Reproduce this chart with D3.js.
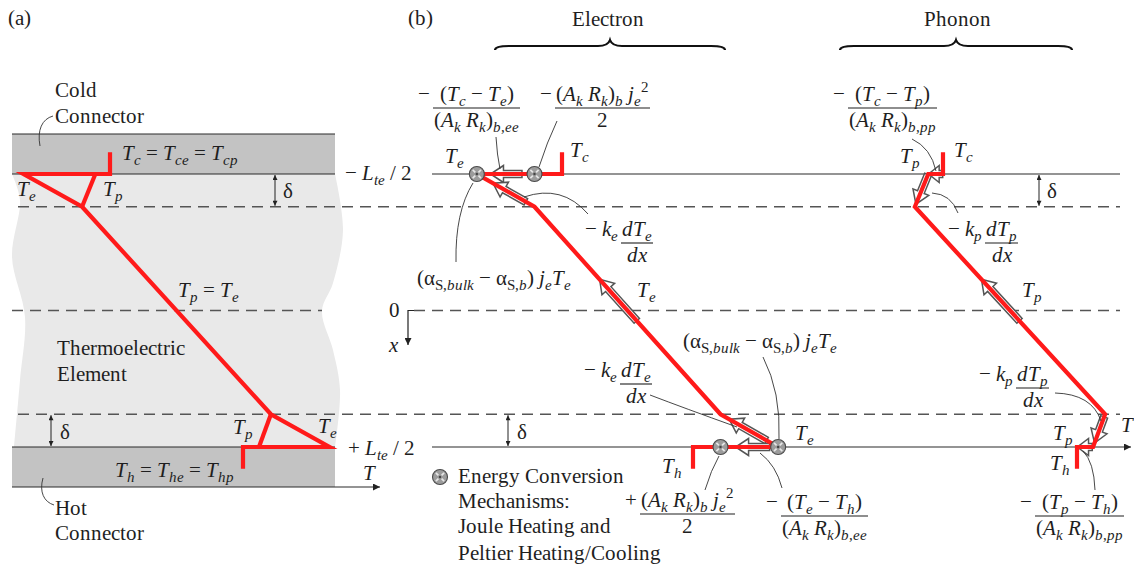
<!DOCTYPE html>
<html>
<head>
<meta charset="utf-8">
<script src="https://cdn.jsdelivr.net/npm/d3@7"></script>
<style>
  html, body { margin: 0; padding: 0; background: #fff; }
  @font-face { font-family: "FigSerif"; font-style: normal; font-weight: 400;
    src: local("Liberation Serif"), local("LiberationSerif"), local("LiberationSerif-Regular"),
         local("Times New Roman"), local("DejaVu Serif"), local("DejaVuSerif"), local("Noto Serif"), local("FreeSerif"); }
  @font-face { font-family: "FigSerif"; font-style: italic; font-weight: 400;
    src: local("Liberation Serif Italic"), local("LiberationSerif-Italic"),
         local("Times New Roman Italic"), local("DejaVu Serif Italic"), local("DejaVuSerif-Italic"), local("Noto Serif Italic"), local("FreeSerifItalic"); }
</style>
</head>
<body>
<svg id="fig" width="1134" height="564" xml:space="preserve"></svg>
<script>
// Positions across the thermoelectric element, as fractions of L_te:
// cold boundary, edge of cold boundary layer, edge of hot boundary layer, hot boundary
const stations = [-0.5, -0.38, 0.38, 0.5];
const leadLength = 0.08;           // connector stub drawn beyond each boundary
// Normalized temperatures (T - Tc) / (Th - Tc) at the four stations
const electronT = [-0.65, -0.21, 1.21, 1.65];
const phononT   = [-0.11, -0.21, 1.21, 1.12];
const coldT = 0, hotT = 1;
// Heat-flux arrows: [segment of the profile, start fraction, tip fraction]
const electronFlux = [[1, 0.47, 0.84], [2, 0.85, 0.28], [3, 0.55, 0.35], [4, 0.80, 0.15], [5, 0.10, 0.50]];
const phononFlux   = [[1, 0.02, 0.98], [2, 0.02, 0.92], [3, 0.55, 0.35], [4, 0.08, 0.88], [5, 0.05, 0.98]];

const FS = 21;
const FONT = "FigSerif, 'Liberation Serif', 'Times New Roman', Tinos, 'Nimbus Roman', Times, 'DejaVu Serif', serif";
const RED = "#ff1a1a";
const INK = "#1e1e1e";
const svg = d3.select("#fig");

// Shared depth scale and one temperature scale per profile
const y = d3.scaleLinear().domain([-0.5, 0.5]).range([174, 447]);
const tLeft = d3.scaleLinear().domain([coldT, hotT]).range([110, 243]);
const tElec = d3.scaleLinear().domain([coldT, hotT]).range([562, 693]);
const tPhon = d3.scaleLinear().domain([coldT, hotT]).range([943, 1077]);

function profile(T) {
  const s = stations;
  return [[coldT, s[0] - leadLength], [coldT, s[0]], [T[0], s[0]], [T[1], s[1]],
          [T[2], s[2]], [T[3], s[3]], [hotT, s[3]], [hotT, s[3] + leadLength]];
}

// ---------- markers ----------
const defs = svg.append("defs");
defs.append("marker").attr("id", "ah").attr("viewBox", "0 0 10 10").attr("refX", 10).attr("refY", 5)
  .attr("markerWidth", 9).attr("markerHeight", 7).attr("markerUnits", "userSpaceOnUse")
  .attr("orient", "auto-start-reverse")
  .append("path").attr("d", "M0,0 L10,5 L0,10 z").attr("fill", "#222");
defs.append("marker").attr("id", "ahs").attr("viewBox", "0 0 10 10").attr("refX", 10).attr("refY", 5)
  .attr("markerWidth", 6).attr("markerHeight", 5).attr("markerUnits", "userSpaceOnUse")
  .attr("orient", "auto-start-reverse")
  .append("path").attr("d", "M0,0 L10,5 L0,10 z").attr("fill", "#222");

// ---------- text helpers ----------
function runs(src) {
  const out = [];
  function close(s, i) { let d = 0, j = i; for (; j < s.length; j++) { if (s[j] === "{") d++; else if (s[j] === "}") { d--; if (d === 0) break; } } return j; }
  (function walk(s, lv, up) {
    let i = 0;
    while (i < s.length) {
      const c = s[i];
      if (c === "_" || c === "^") {
        i++;
        let inner;
        if (s[i] === "{") { const j = close(s, i); inner = s.slice(i + 1, j); i = j + 1; }
        else { inner = s[i]; i++; }
        walk(inner, c === "_" ? "sub" : "sup", up);
      } else if (s.startsWith("\\r{", i)) {
        const j = close(s, i + 2);
        walk(s.slice(i + 3, j), lv, true);
        i = j + 1;
      } else {
        out.push({ ch: c, lv, it: !up && /[A-Za-z]/.test(c) });
        i++;
      }
    }
  })(src, "base", false);
  const merged = [];
  for (const r of out) {
    const last = merged[merged.length - 1];
    if (last && last.lv === r.lv && last.it === r.it) last.ch += r.ch; else merged.push({ ...r });
  }
  return merged;
}

function textEl(x, yy, anchor, size) {
  return svg.append("text").attr("x", x).attr("y", yy).attr("text-anchor", anchor)
    .attr("font-family", FONT).attr("font-size", size).attr("fill", INK)
    .style("font-family", FONT).style("white-space", "pre");
}

function math(x, yy, src, anchor = "start", size = FS) {
  const t = textEl(x, yy, anchor, size);
  let cur = 0;
  for (const r of runs(src)) {
    const sh = r.lv === "sub" ? 0.26 * size : r.lv === "sup" ? -0.42 * size : 0;
    const ts = t.append("tspan").text(r.ch)
      .attr("font-size", r.lv === "base" ? size : size * 0.72)
      .attr("font-style", r.it ? "italic" : "normal");
    if (sh !== cur) { ts.attr("dy", sh - cur); cur = sh; }
  }
  return t;
}

function plain(x, yy, str, anchor = "start", size = FS) {
  return textEl(x, yy, anchor, size).text(str);
}

function frac(x0, barY, num, den, prefix) {
  const n = math(0, barY - 7, num, "middle");
  const d = math(0, barY + 19, den, "middle");
  const w = Math.max(n.node().getComputedTextLength(), d.node().getComputedTextLength()) + 2;
  n.attr("x", x0 + w / 2);
  d.attr("x", x0 + w / 2);
  svg.append("line").attr("x1", x0).attr("x2", x0 + w).attr("y1", barY).attr("y2", barY)
    .attr("stroke", INK).attr("stroke-width", 1.1);
  if (prefix) math(x0 - 3, barY - 7, prefix, "end");
}

function hline(x1, x2, yy, opts = {}) {
  const l = svg.append("line").attr("x1", x1).attr("x2", x2).attr("y1", yy).attr("y2", yy)
    .attr("stroke", opts.color || "#2a2a2a").attr("stroke-width", opts.w || 1.2);
  if (opts.dash) l.attr("stroke-dasharray", opts.dash);
  if (opts.arrow) l.attr("marker-end", "url(#ah)");
  return l;
}

function delta(x, y1, y2, lx) {
  svg.append("line").attr("x1", x).attr("x2", x).attr("y1", y1 + 1).attr("y2", y2 - 1)
    .attr("stroke", "#222").attr("stroke-width", 1)
    .attr("marker-start", "url(#ahs)").attr("marker-end", "url(#ahs)");
  plain(lx, (y1 + y2) / 2 + 8, "δ");
}

function draw() {
  // ---------- panel (a): connectors and element ----------
  const bandL = 12, bandR = 335;
  const leftEdge = [[12, 174], [20, 200], [12, 257], [25, 317], [20, 380], [14, 447]];
  const rightEdge = [[335, 447], [340, 390], [333, 350], [322, 311], [333, 283], [343, 230], [335, 174]];
  const curve = d3.line().curve(d3.curveCatmullRom);
  svg.append("path")
    .attr("d", curve(leftEdge) + "L" + curve(rightEdge).slice(1) + "Z")
    .attr("fill", "#e9e9e9");
  svg.append("rect").attr("x", bandL).attr("y", 134).attr("width", bandR - bandL).attr("height", y(-0.5) - 134).attr("fill", "#c3c3c3");
  svg.append("rect").attr("x", bandL).attr("y", y(0.5)).attr("width", bandR - bandL).attr("height", 487 - y(0.5)).attr("fill", "#c3c3c3");
  hline(bandL, bandR, 134);
  hline(bandL, bandR, y(-0.5));
  hline(bandL, bandR, y(0.5));
  hline(bandL, 380, 487, { arrow: true });

  // dashed reference lines
  hline(18, 1120, y(stations[1]), { dash: "11,7", color: "#555", w: 1.3 });
  hline(18, 1120, y(stations[2]), { dash: "11,7", color: "#555", w: 1.3 });
  hline(12, 322, y(0), { dash: "11,7", color: "#555", w: 1.3 });
  hline(414, 1120, y(0), { dash: "11,7", color: "#555", w: 1.3 });
  // x axis direction
  svg.append("path").attr("d", `M414,${y(0)} L408,${y(0)} L408,345`).attr("fill", "none")
    .attr("stroke", "#222").attr("stroke-width", 1.2).attr("marker-end", "url(#ah)");

  // panel (b) boundaries
  hline(432, 1120, y(-0.5));
  hline(432, 1131, y(0.5), { arrow: true });

  // boundary-layer thickness marks
  delta(275, y(-0.5), y(stations[1]), 283);
  delta(51, y(stations[2]), y(0.5), 60);
  delta(508, y(stations[2]), y(0.5), 517);
  delta(1039, y(-0.5), y(stations[1]), 1047);

  // ---------- temperature profiles ----------
  const redLine = (sx) => d3.line().x(d => sx(d[0])).y(d => y(d[1]));
  function drawProfile(pts, sx) {
    svg.append("path").attr("d", redLine(sx)(pts)).attr("fill", "none")
      .attr("stroke", RED).attr("stroke-width", 4.2).attr("stroke-linejoin", "miter").attr("stroke-miterlimit", 10);
  }

  // panel (a): electron profile with phonon branches inside the boundary layers
  drawProfile(profile(electronT), tLeft);
  drawProfile([[phononT[0], stations[0]], [electronT[1], stations[1]]], tLeft);
  drawProfile([[electronT[2], stations[2]], [phononT[3], stations[3]]], tLeft);

  // hollow heat-flux arrows along a profile
  function fluxArrows(pts, sx, list) {
    for (const [seg, t0, t1] of list) {
      const a = pts[seg], b = pts[seg + 1];
      const P = (t) => [sx(a[0] + (b[0] - a[0]) * t), y(a[1] + (b[1] - a[1]) * t)];
      const [x0, y0] = P(t0), [x1, y1] = P(t1);
      const len = Math.hypot(x1 - x0, y1 - y0);
      const ux = (x1 - x0) / len, uy = (y1 - y0) / len, nx = -uy, ny = ux;
      const h = Math.min(13, len * 0.75), w1 = 3.6, w2 = 8.5;
      const bx = x1 - ux * h, by = y1 - uy * h;
      const p = [
        [x0 + nx * w1, y0 + ny * w1], [bx + nx * w1, by + ny * w1], [bx + nx * w2, by + ny * w2],
        [x1, y1], [bx - nx * w2, by - ny * w2], [bx - nx * w1, by - ny * w1], [x0 - nx * w1, y0 - ny * w1]
      ];
      svg.append("path").attr("d", "M" + p.map(q => q.join(",")).join("L") + "Z")
        .attr("fill", "#fff").attr("stroke", "#555").attr("stroke-width", 1.5).attr("stroke-linejoin", "miter");
    }
  }

  function source(cx, cy, r = 7.5) {
    const g = svg.append("g");
    g.append("circle").attr("cx", cx).attr("cy", cy).attr("r", r)
      .attr("fill", "#9c9c9c").attr("stroke", "#4a4a4a").attr("stroke-width", 1.1);
    for (const a of [45, 135, 225, 315]) {
      const rad = a * Math.PI / 180;
      g.append("line")
        .attr("x1", cx + Math.cos(rad) * r * 0.3).attr("y1", cy + Math.sin(rad) * r * 0.3)
        .attr("x2", cx + Math.cos(rad) * r * 0.78).attr("y2", cy + Math.sin(rad) * r * 0.78)
        .attr("stroke", "#e6e6e6").attr("stroke-width", 1.7);
    }
    g.append("circle").attr("cx", cx).attr("cy", cy).attr("r", 1.2).attr("fill", "#444");
  }

  const ePts = profile(electronT), pPts = profile(phononT);
  fluxArrows(ePts, tElec, electronFlux);
  fluxArrows(pPts, tPhon, phononFlux);
  drawProfile(ePts, tElec);
  drawProfile(pPts, tPhon);

  const electronSources = [[electronT[0], stations[0]], [electronT[1], stations[0]], [electronT[2], stations[3]], [electronT[3], stations[3]]];
  electronSources.forEach(d => source(tElec(d[0]), y(d[1])));
  source(440, 477);

  // ---------- leader curves ----------
  const leaders = [
    "M40,146 C37,130 42,119 53,116",
    "M43,478 C39,492 44,502 54,505",
    "M496,137 Q497,155 500,169",
    "M557,121 Q547,142 539,167",
    "M473,183 Q455,212 456,262",
    "M524,197 Q562,184 588,214",
    "M763,357 Q781,392 779,439",
    "M650,395 Q684,408 737,427",
    "M705,490 Q711,470 719,456",
    "M782,488 Q776,465 760,453",
    "M912,139 Q931,148 936,171",
    "M958,213 Q951,194 932,193",
    "M1055,393 Q1092,394 1101,421",
    "M1095,490 Q1094,462 1083,451"
  ];
  leaders.forEach(d => svg.append("path").attr("d", d).attr("fill", "none").attr("stroke", "#333").attr("stroke-width", 0.9));

  // braces over the electron and phonon sub-panels
  function brace(x0, x1, yb) {
    const m = (x0 + x1) / 2, yl = yb - 4, yt = yb - 10;
    return `M${x0},${yb} Q${x0},${yl} ${x0 + 14},${yl} L${m - 12},${yl} Q${m - 2},${yl} ${m},${yt} ` +
           `Q${m + 2},${yl} ${m + 12},${yl} L${x1 - 14},${yl} Q${x1},${yl} ${x1},${yb}`;
  }
  svg.append("path").attr("d", brace(495, 725, 50)).attr("fill", "none").attr("stroke", "#111").attr("stroke-width", 2.2);
  svg.append("path").attr("d", brace(840, 1072, 50)).attr("fill", "none").attr("stroke", "#111").attr("stroke-width", 2.2);

  // ---------- labels: panel (a) ----------
  plain(8, 25, "(a)");
  plain(55, 97, "Cold");
  plain(55, 123, "Connector");
  math(122, 160, "T_c = T_{ce} = T_{cp}");
  math(17, 196, "T_e");
  math(103, 196, "T_p");
  math(178, 297, "T_p = T_e");
  plain(57, 355, "Thermoelectric");
  plain(57, 381, "Element");
  math(233, 434, "T_p");
  math(318, 433, "T_e");
  math(115, 477, "T_h = T_{he} = T_{hp}");
  plain(55, 515, "Hot");
  plain(55, 540, "Connector");
  math(345, 180, "− L_{te} / 2");
  math(348, 455, "+ L_{te} / 2");
  math(363, 480, "T");

  // ---------- labels: panel (b) ----------
  plain(408, 25, "(b)");
  plain(608, 26, "Electron", "middle");
  plain(957, 26, "Phonon", "middle");

  frac(433, 108, "(T_c − T_e)", "(A_k R_k)_{b,ee}", "−");
  frac(555, 108, "(A_k R_k)_b j_e^2", "2", "−");
  frac(848, 108, "(T_c − T_p)", "(A_k R_k)_{b,pp}", "−");
  math(445, 163, "T_e");
  math(570, 157, "T_c");
  math(900, 163, "T_p");
  math(954, 157, "T_c");

  math(417, 285, "(α_{\\r{S},bulk} − α_{\\r{S},b}) j_eT_e");
  frac(621, 243, "dT_e", "dx", "− k_e");
  math(637, 297, "T_e");
  plain(389, 317, "0");
  math(389, 352, "x");
  math(683, 348, "(α_{\\r{S},bulk} − α_{\\r{S},b}) j_eT_e");
  frac(620, 384, "dT_e", "dx", "− k_e");

  frac(985, 243, "dT_p", "dx", "− k_p");
  math(1022, 297, "T_p");
  frac(1016, 388, "dT_p", "dx", "− k_p");

  math(795, 440, "T_e");
  math(662, 473, "T_h");
  math(1053, 440, "T_p");
  math(1050, 470, "T_h");
  math(1121, 432, "T");

  plain(458, 483, "Energy Conversion");
  plain(458, 508, "Mechanisms:");
  plain(458, 533, "Joule Heating and");
  plain(458, 560, "Peltier Heating/Cooling");

  frac(640, 514, "(A_k R_k)_b j_e^2", "2", "+");
  frac(781, 516, "(T_e − T_h)", "(A_k R_k)_{b,ee}", "−");
  frac(1035, 516, "(T_p − T_h)", "(A_k R_k)_{b,pp}", "−");
}

// wait for the local serif faces so fraction bars are measured with them
Promise.all([
  document.fonts.load("21px FigSerif"),
  document.fonts.load("italic 21px FigSerif")
]).catch(() => {}).then(draw);
</script>
</body>
</html>
